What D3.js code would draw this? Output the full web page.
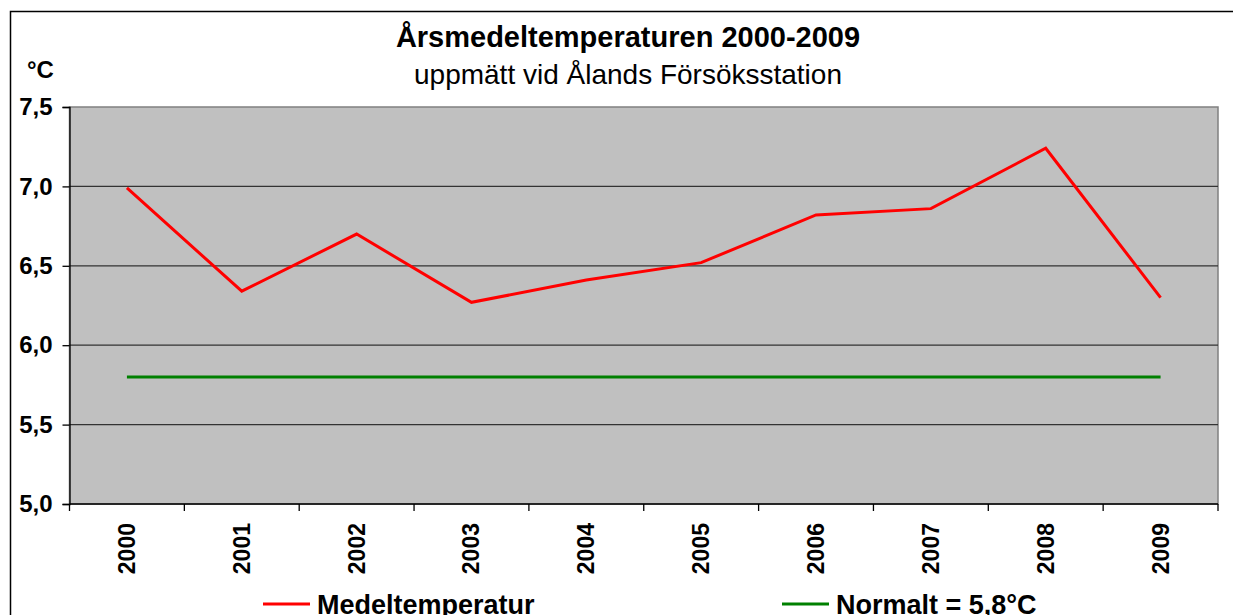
<!DOCTYPE html>
<html>
<head>
<meta charset="utf-8">
<script src="https://cdn.jsdelivr.net/npm/d3@7"></script>
<style>
  body { margin: 0; background: #fff; }
  text { font-family: Arial, "Liberation Sans", sans-serif; fill: #000; }
</style>
</head>
<body>
<svg id="canvas"></svg>
<script>
const years = ["2000","2001","2002","2003","2004","2005","2006","2007","2008","2009"];
const medeltemp = [6.99, 6.34, 6.70, 6.27, 6.41, 6.52, 6.82, 6.86, 7.24, 6.30];
const normalt = [5.8, 5.8, 5.8, 5.8, 5.8, 5.8, 5.8, 5.8, 5.8, 5.8];
const yTicks = [5.0, 5.5, 6.0, 6.5, 7.0, 7.5];

const width = 1233, height = 615;
const margin = { top: 107, left: 69.5, bottom: 111, right: 15 };
const iwidth = 1218 - margin.left;
const iheight = 504 - margin.top;

const svg = d3.select("#canvas").attr("width", width).attr("height", height);

// outer frame (runs off the right/bottom edge)
svg.append("rect")
  .attr("x", 10.5).attr("y", 11.5)
  .attr("width", 1300).attr("height", 700)
  .attr("fill", "none").attr("stroke", "#000").attr("stroke-width", 1.5);

const g = svg.append("g").attr("transform", `translate(${margin.left},${margin.top})`);

const x = d3.scaleBand().domain(years).range([0, iwidth]);
const y = d3.scaleLinear().domain([5, 7.5]).range([iheight, 0]);

g.append("rect")
  .attr("width", iwidth).attr("height", iheight)
  .attr("fill", "#c0c0c0").attr("stroke", "#808080").attr("stroke-width", 1.5);

// gridlines
g.selectAll(".grid").data(yTicks.slice(1, -1)).enter().append("line")
  .attr("x1", 0).attr("x2", iwidth)
  .attr("y1", d => y(d)).attr("y2", d => y(d))
  .attr("stroke", "#333").attr("stroke-width", 1.3);

// y axis
const yAxis = g.append("g")
  .call(d3.axisLeft(y).tickValues(yTicks).tickSize(7).tickPadding(10)
    .tickFormat(d => d3.format(".1f")(d).replace(".", ",")));
yAxis.select(".domain").attr("stroke", "#000").attr("stroke-width", 1.3);
yAxis.selectAll(".tick line").attr("stroke", "#000").attr("stroke-width", 1.3);
yAxis.selectAll("text").attr("font-size", 24).attr("font-weight", "bold")
  .attr("font-family", "Arial, 'Liberation Sans', sans-serif").attr("fill", "#000");

// x axis: ticks on band boundaries
const xAxis = g.append("g").attr("transform", `translate(0,${iheight})`);
xAxis.append("line").attr("x1", 0).attr("x2", iwidth)
  .attr("stroke", "#000").attr("stroke-width", 1.3);
xAxis.selectAll(".xt").data(years.concat(["end"])).enter().append("line")
  .attr("x1", (d, i) => i * x.bandwidth()).attr("x2", (d, i) => i * x.bandwidth())
  .attr("y1", 0).attr("y2", 7)
  .attr("stroke", "#000").attr("stroke-width", 1.3);
xAxis.selectAll(".xl").data(years).enter().append("text")
  .attr("transform", d => `translate(${x(d) + x.bandwidth() / 2 + 8},19) rotate(-90)`)
  .attr("text-anchor", "end")
  .attr("font-size", 23).attr("font-weight", "bold")
  .text(d => d);

const line = d3.line()
  .x((d, i) => x(years[i]) + x.bandwidth() / 2)
  .y(d => y(d));

g.append("path").datum(normalt)
  .attr("d", line).attr("fill", "none")
  .attr("stroke", "#008000").attr("stroke-width", 3);

g.append("path").datum(medeltemp)
  .attr("d", line).attr("fill", "none")
  .attr("stroke", "#ff0000").attr("stroke-width", 3)
  .attr("stroke-linejoin", "miter");

// titles
svg.append("text").attr("x", 628).attr("y", 47).attr("text-anchor", "middle")
  .attr("font-size", 29).attr("font-weight", "bold")
  .text("Årsmedeltemperaturen 2000-2009");
svg.append("text").attr("x", 628).attr("y", 84).attr("text-anchor", "middle")
  .attr("font-size", 28)
  .text("uppmätt vid Ålands Försöksstation");
svg.append("text").attr("x", 27).attr("y", 78)
  .attr("font-size", 24).attr("font-weight", "bold")
  .text("°C");

// legend
const legend = [
  { name: "Medeltemperatur", color: "#ff0000", x: 263 },
  { name: "Normalt = 5,8°C", color: "#008000", x: 782 }
];
const lg = svg.selectAll(".legend").data(legend).enter().append("g")
  .attr("transform", d => `translate(${d.x},604)`);
lg.append("line").attr("x1", 0).attr("x2", 47)
  .attr("stroke", d => d.color).attr("stroke-width", 3);
lg.append("text").attr("x", 54).attr("y", 10)
  .attr("font-size", 27).attr("font-weight", "bold")
  .text(d => d.name);
</script>
</body>
</html>
